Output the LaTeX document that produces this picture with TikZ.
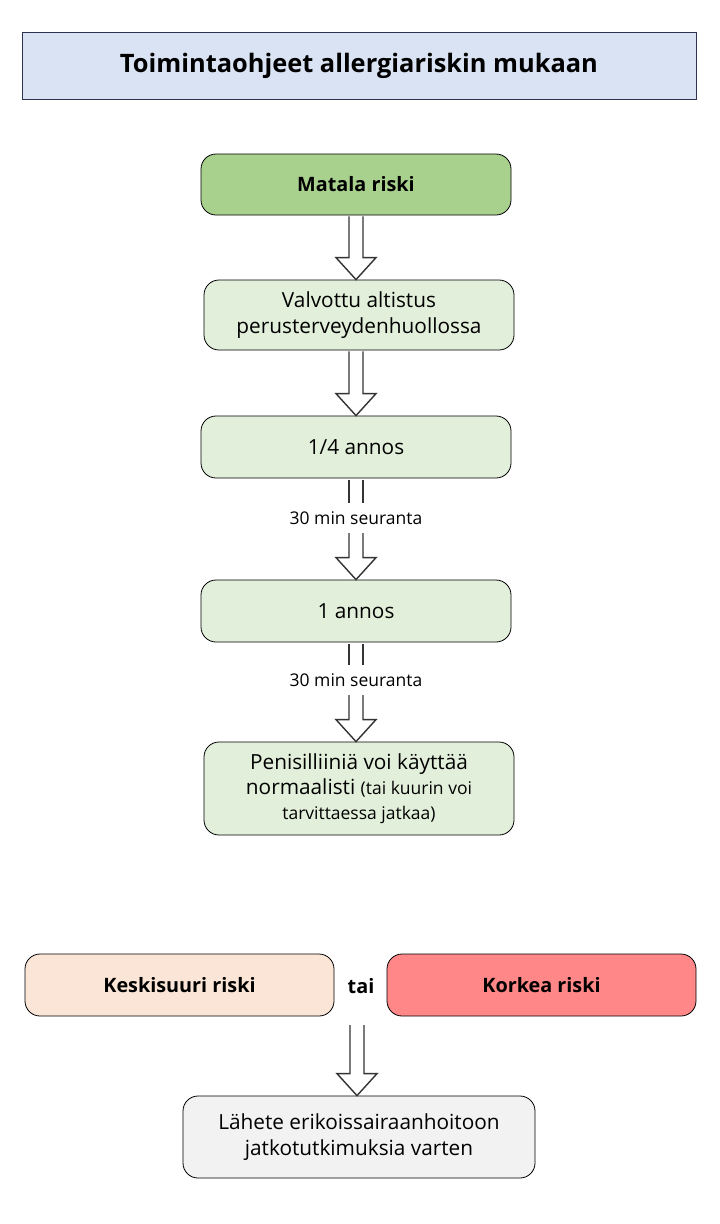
\documentclass[tikz,border=0pt]{standalone}
\usepackage{fontspec}
\setmainfont{Open Sans}
\usetikzlibrary{calc}
\definecolor{titlefill}{HTML}{DAE3F3}
\definecolor{titledraw}{HTML}{2F3350}
\definecolor{greendark}{HTML}{A9D18E}
\definecolor{greenlight}{HTML}{E2EFDA}
\definecolor{peach}{HTML}{FBE5D6}
\definecolor{redrisk}{HTML}{FF8787}
\definecolor{greybox}{HTML}{F2F2F2}
\definecolor{arrowcol}{HTML}{333333}
\tikzset{
  base/.style={draw=black, line width=0.8pt, rounded corners=15pt, align=center, inner sep=0pt, font=\fontsize{20.8}{25.5}\selectfont},
  boldbox/.style={base, font=\fontsize{19.8}{24}\selectfont\bfseries},
  lbl/.style={font=\fontsize{17.5}{20}\selectfont, inner sep=0pt, minimum height=30pt, minimum width=150pt},
  arr/.style={draw=arrowcol, line width=1.4pt, fill=white, line join=miter},
  dbl/.style={draw=arrowcol, line width=1.4pt}
}
\newcommand\fatarr[2]{%
  \draw[arr] ($(#1)+(-7,0)$) -- ($(#1 |- #2)+(-7,-22)$) -- ($(#1 |- #2)+(-20,-22)$) -- (#1 |- #2) -- ($(#1 |- #2)+(20,-22)$) -- ($(#1 |- #2)+(7,-22)$) -- ($(#1)+(7,0)$);}
\newcommand\twolines[2]{%
  \draw[dbl] ($(#1)+(-7,0)$) -- ($(#1 |- #2)+(-7,0)$);
  \draw[dbl] ($(#1)+(7,0)$) -- ($(#1 |- #2)+(7,0)$);}
\begin{document}
\begin{tikzpicture}[x=1pt,y=-1pt]
\useasboundingbox (0,0) rectangle (720,1224);
\fill[white] (0,0) rectangle (720,1224);

\node[draw=titledraw, line width=0.8pt, fill=titlefill, minimum width=674pt, minimum height=67pt, inner sep=0pt, font=\fontsize{25.4}{30}\selectfont\bfseries] (title) at (359,65.5) {Toimintaohjeet allergiariskin mukaan};

\node[boldbox, fill=greendark, minimum width=310pt, minimum height=61pt] (low) at (356,184.5) {Matala riski};
\node[base, fill=greenlight, minimum width=310pt, minimum height=70pt] (valv) at (359,315) {Valvottu altistus\\perusterveydenhuollossa};
\node[base, fill=greenlight, minimum width=310pt, minimum height=62pt] (q) at (356,447) {1/4 annos};
\node[lbl] (s1) at (356,518) {30 min seuranta};
\node[base, fill=greenlight, minimum width=310pt, minimum height=62pt] (one) at (356,611) {1 annos};
\node[lbl] (s2) at (356,680) {30 min seuranta};
\node[base, fill=greenlight, minimum width=310pt, minimum height=93pt, font=\fontsize{20.8}{25}\selectfont] (pen) at (359,788.5) {Penisilliiniä voi käyttää\\normaalisti {\fontsize{17.5}{25}\selectfont (tai kuurin voi}\\{\fontsize{17.5}{23}\selectfont tarvittaessa jatkaa)}};

\node[boldbox, fill=peach, minimum width=309pt, minimum height=62pt] (mid) at (179.5,985) {Keskisuuri riski};
\node[font=\fontsize{19.8}{24}\selectfont\bfseries, inner sep=0pt] (tai) at (361,986) {tai};
\node[boldbox, fill=redrisk, minimum width=309pt, minimum height=62pt] (high) at (541.5,985) {Korkea riski};
\node[base, fill=greybox, minimum width=352pt, minimum height=82pt] (ref) at (359,1137) {Lähete erikoissairaanhoitoon\\jatkotutkimuksia varten};

\coordinate (a1) at ($(low.south)+(0,1)$);
\fatarr{a1}{valv.north}
\coordinate (a2) at ($(valv.south)+(-3,1)$);
\fatarr{a2}{q.north}
\coordinate (a3) at ($(q.south)+(0,2)$);
\twolines{a3}{s1.north}
\fatarr{s1.south}{one.north}
\coordinate (a4) at ($(one.south)+(0,2)$);
\twolines{a4}{s2.north}
\fatarr{s2.south}{pen.north}
\coordinate (a5) at (357,1025);
\fatarr{a5}{ref.north}
\end{tikzpicture}
\end{document}
